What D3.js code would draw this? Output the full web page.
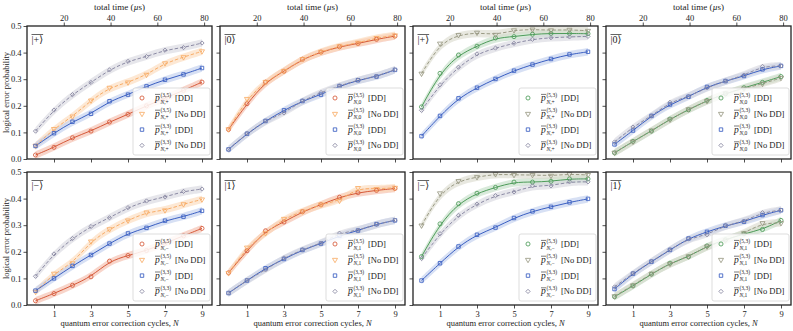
<!DOCTYPE html>
<html><head><meta charset="utf-8">
<script src="https://cdn.jsdelivr.net/npm/d3@7"></script>
<style>body{margin:0;background:#fff}svg{display:block}text{font-family:"Liberation Serif","DejaVu Serif",serif;fill:#222}</style>
</head><body><svg id="c" width="793" height="331"></svg>
<script>
const cycles = [0,1,2,3,4,5,6,7,8,9];
const timeTicks = [20,40,60,80];
const cycleTicks = [1,3,5,7,9];
const yTicks = [0,0.1,0.2,0.3,0.4,0.5];
const usPerCycle = 7.91;
const bandHalfWidth = 0.014;

// Row 1
const plus35DD   = [0.015,0.044,0.080,0.105,0.139,0.168,0.200,0.228,0.258,0.289];
const plus35NoDD = [0.050,0.113,0.160,0.220,0.268,0.288,0.317,0.360,0.383,0.405];
const plus33DDa  = [0.049,0.097,0.140,0.170,0.217,0.242,0.273,0.298,0.318,0.342];
const plus33NoDDa= [0.105,0.184,0.242,0.288,0.335,0.367,0.385,0.409,0.419,0.436];
const zero35DD   = [0.111,0.208,0.289,0.330,0.375,0.402,0.422,0.434,0.450,0.462];
const zero35NoDD = [0.112,0.226,0.290,0.331,0.376,0.403,0.424,0.437,0.455,0.465];
const zero33DDa  = [0.036,0.095,0.143,0.183,0.218,0.242,0.274,0.296,0.310,0.335];
const zero33NoDDa= [0.036,0.096,0.143,0.173,0.219,0.250,0.275,0.297,0.311,0.336];
const plus53DD   = [0.196,0.322,0.391,0.424,0.455,0.460,0.469,0.472,0.472,0.471];
const plus53NoDD = [0.321,0.434,0.466,0.475,0.467,0.484,0.487,0.484,0.486,0.482];
const plus33DDb  = [0.086,0.162,0.228,0.268,0.301,0.332,0.355,0.376,0.393,0.403];
const plus33NoDDb= [0.183,0.279,0.345,0.395,0.417,0.435,0.450,0.456,0.459,0.461];
const zero53DD   = [0.023,0.066,0.105,0.150,0.185,0.220,0.245,0.268,0.288,0.310];
const zero53NoDD = [0.024,0.065,0.107,0.148,0.187,0.218,0.247,0.265,0.283,0.305];
const zero33DDb  = [0.055,0.107,0.162,0.205,0.234,0.271,0.293,0.312,0.337,0.350];
const zero33NoDDb= [0.064,0.120,0.162,0.213,0.235,0.268,0.293,0.315,0.348,0.350];
// Row 2
const minus35DD   = [0.016,0.043,0.074,0.106,0.165,0.186,0.205,0.232,0.260,0.288];
const minus35NoDD = [0.050,0.118,0.157,0.239,0.285,0.318,0.348,0.356,0.379,0.397];
const minus33DDa  = [0.054,0.100,0.147,0.188,0.231,0.269,0.290,0.317,0.332,0.354];
const minus33NoDDa= [0.108,0.192,0.250,0.295,0.328,0.366,0.391,0.406,0.427,0.436];
const one35DD     = [0.121,0.204,0.279,0.312,0.351,0.377,0.405,0.422,0.431,0.438];
const one35NoDD   = [0.120,0.216,0.270,0.324,0.352,0.378,0.392,0.440,0.436,0.441];
const one33DDa    = [0.045,0.092,0.138,0.173,0.207,0.231,0.260,0.280,0.304,0.318];
const one33NoDDa  = [0.045,0.093,0.132,0.177,0.208,0.232,0.270,0.281,0.303,0.319];
const minus53DD   = [0.182,0.305,0.381,0.420,0.442,0.462,0.462,0.465,0.474,0.474];
const minus53NoDD = [0.299,0.420,0.466,0.481,0.492,0.489,0.489,0.486,0.492,0.489];
const minus33DDb  = [0.092,0.157,0.220,0.264,0.291,0.327,0.352,0.369,0.386,0.399];
const minus33NoDDb= [0.175,0.268,0.337,0.379,0.411,0.425,0.448,0.448,0.463,0.463];
const one53DD     = [0.031,0.072,0.116,0.157,0.181,0.222,0.245,0.268,0.284,0.318];
const one53NoDD   = [0.033,0.074,0.118,0.155,0.183,0.220,0.243,0.270,0.308,0.308];
const one33DDb    = [0.060,0.118,0.163,0.207,0.250,0.275,0.298,0.313,0.338,0.356];
const one33NoDDb  = [0.068,0.119,0.164,0.208,0.249,0.264,0.299,0.315,0.347,0.357];

const stateLabels = ["+","0","+","0","\u2212","1","\u2212","1"];
const codeFirst = ["(3,5)","(3,5)","(5,3)","(5,3)","(3,5)","(3,5)","(5,3)","(5,3)"];
const codeSecond = "(3,3)";
const modeLabels = ["[DD]","[No DD]","[DD]","[No DD]"];

const panelSeries = [
  [plus35DD,plus35NoDD,plus33DDa,plus33NoDDa],
  [zero35DD,zero35NoDD,zero33DDa,zero33NoDDa],
  [plus53DD,plus53NoDD,plus33DDb,plus33NoDDb],
  [zero53DD,zero53NoDD,zero33DDb,zero33NoDDb],
  [minus35DD,minus35NoDD,minus33DDa,minus33NoDDa],
  [one35DD,one35NoDD,one33DDa,one33NoDDa],
  [minus53DD,minus53NoDD,minus33DDb,minus33NoDDb],
  [one53DD,one53NoDD,one33DDb,one33NoDDb]
];

// styles
const palA = [
  {c:"#d65a3a", band:"#f3b9a6", dash:null, sym:"circle"},
  {c:"#f8ad68", band:"#fcd9b8", dash:"3.5,2", sym:"tri"},
  {c:"#3a5fc2", band:"#bccbec", dash:null, sym:"square"},
  {c:"#8b8aa4", band:"#d6d6de", dash:"3.5,2", sym:"diamond"}
];
const palB = [
  {c:"#4e9c5a", band:"#bfdcc3", dash:null, sym:"circle"},
  {c:"#9a9a84", band:"#d9d9cc", dash:"3.5,2", sym:"tri"},
  {c:"#3a5fc2", band:"#bccbec", dash:null, sym:"square"},
  {c:"#8b8aa4", band:"#d6d6de", dash:"3.5,2", sym:"diamond"}
];

const svg = d3.select("#c");
const lefts = [27,220,413,606];
const W = 185;
const rows = [{top:26,bottom:159},{top:172,bottom:305}];
const padL = 8.5, step = 18.5;

function symPath(s){
  if(s==="circle") return d3.symbol(d3.symbolCircle, 13)();
  if(s==="square") return d3.symbol(d3.symbolSquare, 12)();
  if(s==="tri") return d3.symbol(d3.symbolTriangle, 11)();
  return d3.symbol(d3.symbolSquare, 9)();
}
function symTransform(s,x,y){
  if(s==="tri") return `translate(${x},${y}) rotate(180)`;
  if(s==="diamond") return `translate(${x},${y}) rotate(45)`;
  return `translate(${x},${y})`;
}

panelSeries.forEach((series,i)=>{
  const col = i%4, row = Math.floor(i/4);
  const x0 = lefts[col], r = rows[row];
  const xs = d3.scaleLinear().domain([-padL/step, (W-padL)/step]).range([x0, x0+W]);
  const ts = d3.scaleLinear().domain(xs.domain().map(n=>usPerCycle*(n+1))).range([x0,x0+W]);
  const ys = d3.scaleLinear().domain([0,0.5]).range([r.bottom, r.top]);
  const pal = col>=2 ? palB : palA;
  const g = svg.append("g");
  const clipId = "clip"+i;
  svg.append("clipPath").attr("id",clipId).append("rect").attr("x",x0).attr("y",r.top).attr("width",W).attr("height",r.bottom-r.top);
  const plot = g.append("g").attr("clip-path",`url(#${clipId})`);

  // bands
  series.forEach((vals,k)=>{
    const area = d3.area().x((d,j)=>xs(cycles[j])).y0(d=>ys(d-bandHalfWidth)).y1(d=>ys(d+bandHalfWidth)).curve(d3.curveBasis);
    plot.append("path").attr("d",area(vals)).attr("fill",pal[k].band).attr("opacity",0.6);
  });
  // lines
  series.forEach((vals,k)=>{
    const line = d3.line().x((d,j)=>xs(cycles[j])).y(d=>ys(d)).curve(d3.curveBasis);
    plot.append("path").attr("d",line(vals)).attr("fill","none").attr("stroke",pal[k].c)
      .attr("stroke-width",1).attr("stroke-dasharray",pal[k].dash);
  });
  // markers
  series.forEach((vals,k)=>{
    plot.selectAll(null).data(vals).enter().append("path")
      .attr("d",symPath(pal[k].sym))
      .attr("transform",(d,j)=>symTransform(pal[k].sym,xs(cycles[j]),ys(d)))
      .attr("fill","none").attr("stroke",pal[k].c).attr("stroke-width",0.85);
  });

  // axes
  const yAx = d3.axisLeft(ys).tickValues(yTicks).tickSize(3.5).tickPadding(2)
    .tickFormat(col===0 ? d3.format(".1f") : "");
  const ya = g.append("g").attr("transform",`translate(${x0},0)`).call(yAx);
  const xAx = d3.axisBottom(xs).tickValues(cycleTicks).tickSize(3.5).tickPadding(2)
    .tickFormat(row===1 ? d3.format("d") : "");
  const xa = g.append("g").attr("transform",`translate(0,${r.bottom})`).call(xAx);
  const axes=[ya,xa];
  if(row===0){
    const tAx = d3.axisTop(ts).tickValues(timeTicks).tickSize(3.5).tickPadding(2).tickFormat(d3.format("d"));
    axes.push(g.append("g").attr("transform",`translate(0,${r.top})`).call(tAx));
    g.append("text").attr("x",x0+W/2).attr("y",10).attr("text-anchor","middle").attr("font-size",9)
      .html('total time (<tspan font-style="italic">\u00b5</tspan>s)');
  }
  axes.forEach(a=>{
    a.select(".domain").remove();
    a.selectAll("line").attr("stroke","#222").attr("stroke-width",0.8);
    a.selectAll("text").attr("font-size",8.5).attr("fill","#222");
  });
  // frame
  g.append("rect").attr("x",x0).attr("y",r.top).attr("width",W).attr("height",r.bottom-r.top)
    .attr("fill","none").attr("stroke","#222").attr("stroke-width",1.3);

  // state label
  const st = g.append("text").attr("x",x0+4.5).attr("y",r.top+17).attr("font-size",10).text("|"+stateLabels[i]+"\u27e9");
  const bb = st.node().getBBox();
  g.append("line").attr("x1",bb.x).attr("x2",bb.x+bb.width).attr("y1",bb.y+0.5).attr("y2",bb.y+0.5)
    .attr("stroke","#222").attr("stroke-width",0.7);

  // legend
  const lw=77, lh=67;
  const lx = x0+W-2-lw, ly = r.bottom-4-lh;
  g.append("rect").attr("x",lx).attr("y",ly).attr("width",lw).attr("height",lh).attr("rx",2)
    .attr("fill","#fff").attr("fill-opacity",0.85).attr("stroke","#d4d4d4").attr("stroke-width",0.8);
  pal.forEach((p,k)=>{
    const cy = ly+10+k*15.8;
    g.append("path").attr("d",symPath(p.sym)).attr("transform",symTransform(p.sym,lx+9,cy))
      .attr("fill","none").attr("stroke",p.c).attr("stroke-width",0.85);
    const px = lx+22;
    g.append("text").attr("x",px).attr("y",cy+3).attr("font-size",9.5).attr("font-style","italic").text("p");
    g.append("line").attr("x1",px).attr("x2",px+5).attr("y1",cy-3.6).attr("y2",cy-3.6).attr("stroke","#222").attr("stroke-width",0.6);
    g.append("text").attr("x",px+5.5).attr("y",cy-1.5).attr("font-size",5.5).text(k<2?codeFirst[i]:codeSecond);
    g.append("text").attr("x",px+5.5).attr("y",cy+5.5).attr("font-size",5.5)
      .html('<tspan font-style="italic">N</tspan>,'+stateLabels[i]);
    g.append("text").attr("x",px+20).attr("y",cy+3).attr("font-size",8.5).text(modeLabels[k]);
  });

  if(row===1){
    g.append("text").attr("x",x0+W/2).attr("y",326).attr("text-anchor","middle").attr("font-size",8.5)
      .html('quantum error correction cycles, <tspan font-style="italic">N</tspan>');
  }
  if(col===0){
    g.append("text").attr("transform",`translate(9,${(r.top+r.bottom)/2}) rotate(-90)`)
      .attr("text-anchor","middle").attr("font-size",8.5).text("logical error probability");
  }
});
</script></body></html>
